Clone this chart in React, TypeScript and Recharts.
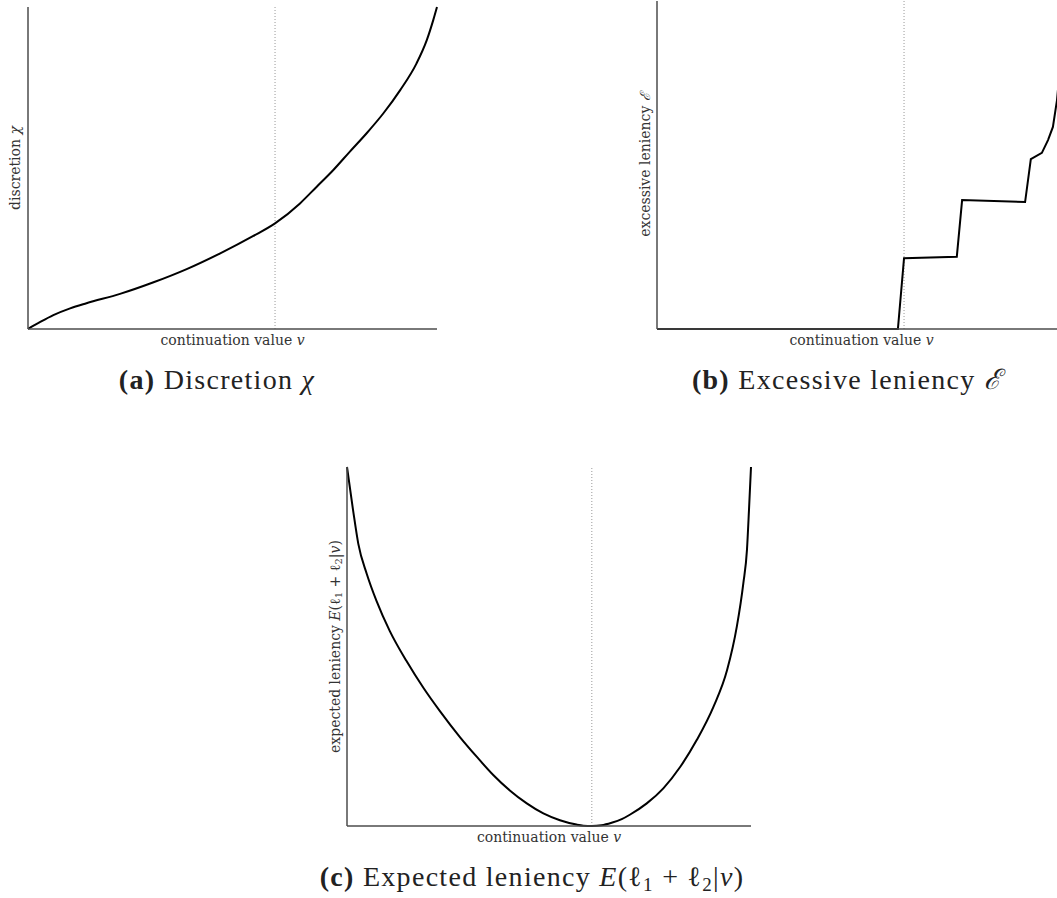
import React from 'react';
import { LineChart, Line, XAxis, YAxis, ReferenceLine } from 'recharts';

// (a) discretion chi against continuation value v
const discretionV = [0, 0.029, 0.062, 0.103, 0.143, 0.225, 0.307, 0.388, 0.47, 0.551, 0.604, 0.665, 0.706, 0.746, 0.787, 0.828, 0.869, 0.91, 0.95, 0.975, 0.991, 1];
const discretionChi = [0, 0.021, 0.043, 0.064, 0.08, 0.109, 0.145, 0.186, 0.235, 0.289, 0.328, 0.39, 0.442, 0.493, 0.551, 0.608, 0.67, 0.742, 0.825, 0.897, 0.96, 1];

// (b) excessive leniency, piecewise steps
const excessV = [0, 0.589, 0.604, 0.733, 0.746, 0.9, 0.914, 0.941, 0.956, 0.968, 0.978, 0.99, 1];
const excessE = [0, 0, 0.216, 0.22, 0.393, 0.387, 0.518, 0.537, 0.576, 0.616, 0.698, 0.86, 1];

// (c) expected leniency E(l1 + l2 | v)
const expectedV = [0, 0.015, 0.028, 0.049, 0.073, 0.106, 0.147, 0.189, 0.23, 0.28, 0.321, 0.362, 0.403, 0.445, 0.486, 0.527, 0.568, 0.585, 0.606, 0.63, 0.655, 0.68, 0.701, 0.742, 0.783, 0.825, 0.866, 0.907, 0.941, 0.965, 0.981, 0.99, 0.995, 1];
const expectedL = [1, 0.88, 0.786, 0.702, 0.627, 0.543, 0.46, 0.385, 0.32, 0.247, 0.193, 0.142, 0.099, 0.063, 0.035, 0.016, 0.004, 0.001, 0, 0.002, 0.009, 0.019, 0.032, 0.063, 0.105, 0.165, 0.24, 0.332, 0.435, 0.556, 0.676, 0.769, 0.88, 1];

// cutoff where the dotted line sits
const CUTOFF_A = 0.604;
const CUTOFF_B = 0.604;
const CUTOFF_C = 0.606;

const AXIS_FONT = '"DejaVu Serif", "Liberation Serif", serif';
const AXIS_COLOR = '#4d4d4d';
const TEXT_COLOR = '#333';

const toRows = (xs: number[], ys: number[]) => xs.map((v, i) => ({ v, y: ys[i] }));

function XLabel({ viewBox }: any) {
  const { x, y, width } = viewBox;
  return (
    <text
      x={x + width / 2}
      y={y + 16}
      textAnchor="middle"
      fontFamily={AXIS_FONT}
      fontSize={14}
      fill={TEXT_COLOR}
    >
      continuation value <tspan fontStyle="italic">v</tspan>
    </text>
  );
}

function makeYLabel(content: React.ReactNode, dx: number) {
  return function YLabel({ viewBox }: any) {
    const { x, y, width, height } = viewBox;
    const cx = x + width / 2 + dx;
    const cy = y + height / 2;
    return (
      <text
        x={cx}
        y={cy}
        transform={`rotate(-90 ${cx} ${cy})`}
        textAnchor="middle"
        dominantBaseline="central"
        fontFamily={AXIS_FONT}
        fontSize={14}
        fill={TEXT_COLOR}
      >
        {content}
      </text>
    );
  };
}

interface PanelProps {
  rows: { v: number; y: number }[];
  cutoff: number;
  width: number;
  height: number;
  top: number;
  curve: 'monotone' | 'linear';
  yLabel: (p: any) => React.ReactElement;
}

function Panel({ rows, cutoff, width, height, top, curve, yLabel }: PanelProps) {
  return (
    <LineChart
      width={width}
      height={height}
      data={rows}
      margin={{ top, right: 23, bottom: 11, left: 8 }}
    >
      <XAxis
        type="number"
        dataKey="v"
        domain={[0, 1]}
        tick={false}
        tickLine={false}
        height={20}
        axisLine={{ stroke: AXIS_COLOR, strokeWidth: 1.5 }}
        label={{ content: XLabel }}
      />
      <YAxis
        type="number"
        domain={[0, 1]}
        tick={false}
        tickLine={false}
        width={20}
        axisLine={{ stroke: AXIS_COLOR, strokeWidth: 1.5 }}
        label={{ content: yLabel }}
      />
      <ReferenceLine x={cutoff} stroke="#999" strokeWidth={1} strokeDasharray="1 2" />
      <Line
        type={curve}
        dataKey="y"
        stroke="#000"
        strokeWidth={2}
        dot={false}
        isAnimationActive={false}
      />
    </LineChart>
  );
}

const captionStyle: React.CSSProperties = {
  position: 'absolute',
  transform: 'translate(-50%, -50%)',
  whiteSpace: 'nowrap',
  fontFamily: '"Liberation Serif", serif',
  fontSize: 28,
  letterSpacing: 1.3,
  color: '#222',
  lineHeight: 1,
};

const subStyle: React.CSSProperties = { fontSize: 19, verticalAlign: -5, lineHeight: 0 };

const LabelA = makeYLabel(
  <>
    discretion <tspan fontStyle="italic">χ</tspan>
  </>,
  -3
);
const LabelB = makeYLabel(
  <>
    excessive leniency <tspan fontStyle="italic">ℰ</tspan>
  </>,
  -2
);
const LabelC = makeYLabel(
  <>
    expected leniency <tspan fontStyle="italic">E</tspan>(ℓ<tspan fontSize={10} dy={3}>1</tspan>
    <tspan dy={-3}> + ℓ</tspan>
    <tspan fontSize={10} dy={3}>2</tspan>
    <tspan dy={-3}>|</tspan>
    <tspan fontStyle="italic">v</tspan>)
  </>,
  -2
);

export default function App() {
  return (
    <div
      style={{
        position: 'fixed',
        left: 0,
        top: 0,
        width: 1057,
        height: 898,
        overflow: 'hidden',
        background: '#fff',
      }}
    >
      <div style={{ position: 'absolute', left: 0, top: 0 }}>
        <Panel rows={toRows(discretionV, discretionChi)} cutoff={CUTOFF_A} width={460} height={360} top={7} curve="monotone" yLabel={LabelA} />
      </div>
      <div style={{ position: 'absolute', left: 629, top: 0 }}>
        <Panel rows={toRows(excessV, excessE)} cutoff={CUTOFF_B} width={460} height={360} top={1} curve="linear" yLabel={LabelB} />
      </div>
      <div style={{ position: 'absolute', left: 319, top: 460 }}>
        <Panel rows={toRows(expectedV, expectedL)} cutoff={CUTOFF_C} width={455} height={397} top={7} curve="monotone" yLabel={LabelC} />
      </div>

      <div style={{ ...captionStyle, left: 217, top: 380 }}>
        <b>(a)</b> Discretion <i>χ</i>
      </div>
      <div style={{ ...captionStyle, left: 847, top: 380 }}>
        <b>(b)</b> Excessive leniency <i>ℰ</i>
      </div>
      <div style={{ ...captionStyle, left: 532, top: 877 }}>
        <b>(c)</b> Expected leniency <i>E</i>(ℓ<span style={subStyle}>1</span> + ℓ<span style={subStyle}>2</span>|<i>v</i>)
      </div>
    </div>
  );
}
